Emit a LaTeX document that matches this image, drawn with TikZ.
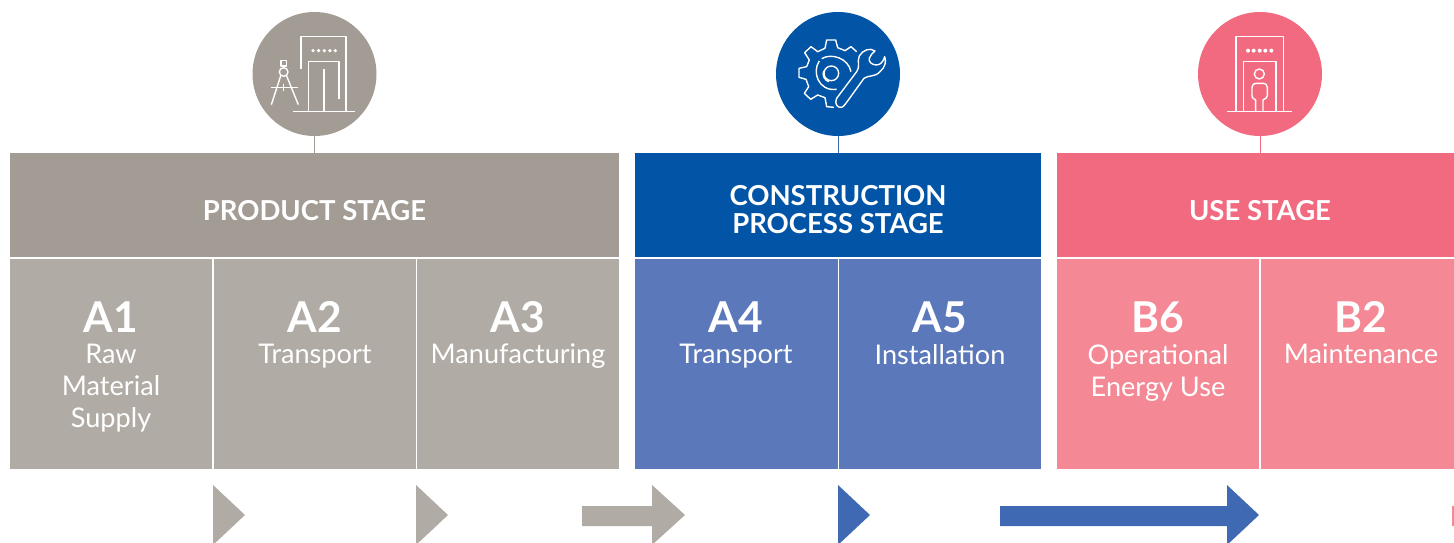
\documentclass[tikz,border=0pt]{standalone}
\usepackage{fontspec}
\setmainfont{Lato}
\usetikzlibrary{calc}
\definecolor{gh}{HTML}{A39C95}\definecolor{gc}{HTML}{B0ABA4}
\definecolor{bh}{HTML}{0254A6}\definecolor{bc}{HTML}{5B78BA}\definecolor{ba}{HTML}{4069B3}
\definecolor{ph}{HTML}{F26A80}\definecolor{pc}{HTML}{F58895}
\tikzset{
  header/.style={rectangle,draw=none,inner sep=0pt,minimum height=104pt},
  headtext/.style={text=white,inner sep=0pt,align=center,font=\fontsize{27.5}{28}\selectfont\bfseries},
  cellbox/.style={rectangle,draw=none,inner sep=0pt,minimum height=210pt},
  code/.style={text=white,inner sep=0pt,font=\fontsize{42.5}{42}\selectfont\bfseries},
  desc/.style={text=white,inner sep=0pt,align=center,anchor=north,font=\fontsize{27.1}{32}\selectfont},
  badge/.style={circle,draw=none,inner sep=0pt,minimum size=124pt},
  stem/.style={line width=1pt},
  icon/.style={draw=white,line width=1.4pt,line join=round}
}
\begin{document}
\begin{tikzpicture}[x=1pt,y=-1pt]
\useasboundingbox (0,0) rectangle (1454,543);
\clip (0,0) rectangle (1454,543);
% headers
\node[header,fill=gh,minimum width=609pt] (hp) at (314.5,205) {};
\node[header,fill=bh,minimum width=406pt] (hc) at (838,205) {};
\node[header,fill=ph,minimum width=397pt] (hu) at (1255.5,205) {};
\node[headtext] (tp) at (314.5,210.5) {PRODUCT STAGE};
\node[headtext] (tc) at (838,210) {CONSTRUCTION\\PROCESS STAGE};
\node[headtext] (tu) at (1260,210.5) {USE STAGE};
% badges
\node[badge,fill=gh] (bp) at (314.5,74) {};
\node[badge,fill=bh] (bb) at (838,74) {};
\node[badge,fill=ph] (bu) at (1260,74) {};
\draw[stem,draw=gh] (bp.south) -- (bp.south |- hp.north);
\draw[stem,draw=ba] (bb.south) -- (bb.south |- hc.north);
\draw[stem,draw=ph] (bu.south) -- (bu.south |- hu.north);
% cells
\foreach \n/\cx/\w/\col in {ca/111/202/gc,cb/315/202/gc,cc/518/202/gc,cd/736.5/203/bc,ce/940/202/bc,cf/1158/202/pc,cg/1357.5/193/pc}{
  \node[cellbox,fill=\col,minimum width=\w pt] (\n) at (\cx,363.5) {};
}
\foreach \x/\t/\d in {111/A1/{Raw\\Material\\Supply},315/A2/Transport,518/A3/Manufacturing,736/A4/Transport,940/A5/Installation,1158/B6/{Operational\\Energy Use},1361/B2/Maintenance}{
  \node[code] (c\t) at (\x,317) {\t};
  \node[desc] (d\t) at (\x,344) {\d};
}
% icon 1: dividers and elevator
\begin{scope}[shift={(230,0)},x=0.3333pt,y=-0.3333pt]
  \draw[icon] (213,208) -- (213,110) -- (348,110) -- (348,335);
  \draw[icon] (327,298) -- (327,184) -- (236,184) -- (236,335);
  \draw[icon] (282,206) -- (282,335);
  \draw[icon] (189,335) -- (375,335);
  \foreach \x in {249,266,283,300,316}{\fill[white] (\x,152) circle (5.5);}
  \draw[icon] (153,182) rectangle (170,198);
  \draw[icon] (161,216) circle (13);
  \draw[icon] (124,262) -- (203,262);
  \draw[icon] (152,228) -- (124,314);
  \draw[icon] (170,228) -- (205,314);
  \draw[icon] (161,252) -- (161,272);
\end{scope}
% icon 2: gear and wrench
\begin{scope}[shift={(790,30)},x=0.3333pt,y=-0.3333pt]
  \draw[icon] (200,65) -- (183,50) -- (165,62) -- (143,53) -- (137,30) -- (110,30) -- (105,55) -- (83,65) -- (63,50) -- (44,68) -- (58,90) -- (50,110) -- (27,115) -- (27,142) -- (48,148) -- (56,170) -- (43,190) -- (62,208) -- (83,195) -- (105,203) -- (110,230) -- (132,232);
  \draw[icon] (124,130) circle (22);
  \draw[icon] (101,122) arc (200:110:26);
  \draw[icon] (95,86) .. controls (125,68) and (175,85) .. (183,125);
  \draw[icon] (88,93) .. controls (65,125) and (85,185) .. (140,178);
  \draw[icon] (140,205) .. controls (133,218) and (140,235) .. (155,232) .. controls (162,230) and (166,222) .. (222,145)
    .. controls (235,135) and (255,142) .. (270,125) .. controls (285,112) and (290,95) .. (284,80)
    .. controls (280,95) and (272,104) .. (260,105) .. controls (245,105) and (235,95) .. (238,85)
    .. controls (240,75) and (248,70) .. (255,63) .. controls (240,52) and (218,60) .. (208,78)
    .. controls (200,95) and (212,110) .. (200,125) -- cycle;
\end{scope}
% icon 3: elevator with person
\begin{scope}[shift={(1180,0)},x=0.3333pt,y=-0.3333pt]
  \draw[icon] (168,335) -- (168,110) -- (310,110) -- (310,335);
  \draw[icon] (190,335) -- (190,184) -- (288,184) -- (288,335);
  \draw[icon] (142,335) -- (336,335);
  \foreach \x in {204,221,239,256,274}{\fill[white] (\x,152) circle (6);}
  \draw[icon] (238,222) circle (15);
  \draw[icon] (227,335) -- (227,300) -- (224,298) .. controls (218,296) and (216,292) .. (216,286) -- (216,262) .. controls (216,254) and (222,250) .. (228,250) -- (250,250) .. controls (256,250) and (262,254) .. (262,262) -- (262,286) .. controls (262,292) and (258,296) .. (252,298) -- (249,300) -- (249,335);
\end{scope}
% bottom arrows
\fill[gc] (213,485) -- (245,515) -- (213,545) -- cycle;
\fill[gc] (416,485) -- (448,515) -- (416,545) -- cycle;
\fill[gc] (582,506) -- (652,506) -- (652,485) -- (685,515) -- (652,545) -- (652,526) -- (582,526) -- cycle;
\fill[ba] (838,485) -- (870,515) -- (838,545) -- cycle;
\fill[ba] (1000,506) -- (1227,506) -- (1227,485) -- (1259,515) -- (1227,545) -- (1227,526) -- (1000,526) -- cycle;
\fill[pc] (1452,506) rectangle (1454,526);
\end{tikzpicture}
\end{document}
